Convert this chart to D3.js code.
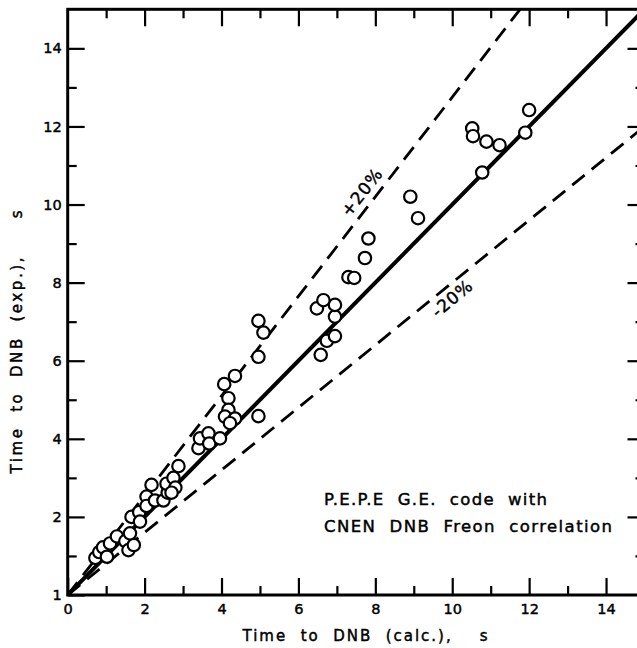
<!DOCTYPE html>
<html>
<head>
<meta charset="utf-8">
<script src="https://cdn.jsdelivr.net/npm/d3@7/dist/d3.min.js"></script>
<style>
  html, body { margin: 0; padding: 0; background: #fff; }
  svg { display: block; }
  text { font-family: "DejaVu Sans", "Liberation Sans", sans-serif; fill: #000; stroke: #000; stroke-width: 0.45px; }
</style>
</head>
<body>
<svg id="chart" width="637" height="648"></svg>
<script>
// ---- data ----
const calcTime = [
  0.72, 0.82, 0.92, 1.02, 1.10, 1.28, 1.50, 1.58, 1.72, 1.62,
  1.66, 1.86, 1.88, 2.05, 2.05, 2.18, 2.27, 2.49, 2.60, 2.57,
  2.75, 2.80, 2.88, 2.70,
  3.40, 3.44, 3.66, 3.68, 3.96,
  4.07, 4.18, 4.18, 4.09, 4.35, 4.22, 4.35, 4.96, 4.96, 5.09, 4.96,
  6.58, 6.74, 6.95, 6.95, 6.95, 6.48, 6.65, 7.30, 7.45, 7.73, 7.82,
  8.91, 9.11,
  10.52, 10.54, 10.89, 11.23, 10.78, 11.90, 12.00
];
const expTime = [
  0.95, 1.10, 1.22, 0.98, 1.32, 1.50, 1.38, 1.15, 1.28, 1.58,
  2.00, 2.12, 1.88, 2.52, 2.28, 2.82, 2.42, 2.42, 2.62, 2.85,
  3.00, 2.75, 3.30, 2.62,
  3.76, 4.01, 4.14, 3.88, 4.01,
  5.40, 5.04, 4.74, 4.57, 4.52, 4.40, 5.61, 4.58, 7.02, 6.72, 6.10,
  6.15, 6.51, 6.63, 7.13, 7.43, 7.34, 7.55, 8.14, 8.12, 8.63, 9.13,
  10.20, 9.65,
  11.95, 11.75, 11.61, 11.52, 10.82, 11.84, 12.42
];
const lineSlopes = [1.0, 1.275, 0.8];          // best fit, +20 %, -20 %
const lineDashed = [false, true, true];
const xTickValues = [0, 2, 4, 6, 8, 10, 12, 14];
const xTickLabels = ["0", "2", "4", "6", "8", "10", "12", "14"];
const yTickValues = [0, 2, 4, 6, 8, 10, 12, 14];
const yTickLabels = ["1", "2", "4", "6", "8", "10", "12", "14"];
const minorTicks = [1, 3, 5, 7, 9, 11, 13];
const xAxisTitle = "Time  to  DNB  (calc.),    s";
const yAxisTitle = "Time  to  DNB  (exp.),     s";
const noteLines = ["P.E.P.E  G.E.  code  with", "CNEN  DNB  Freon  correlation"];
const bandLabels = ["+20%", "-20%"];

// ---- layout ----
const svg = d3.select("#chart");
const x = d3.scaleLinear().domain([0, 15]).range([67.7, 644.5]);
const y = d3.scaleLinear().domain([0, 15]).range([595, 9.3]);

svg.append("defs").append("clipPath").attr("id", "plotclip")
  .append("rect")
  .attr("x", x(0)).attr("y", y(15))
  .attr("width", x(15) - x(0)).attr("height", y(0) - y(15));

const plot = svg.append("g").attr("clip-path", "url(#plotclip)");

// reference lines
const lineGen = d3.line().x(d => x(d[0])).y(d => y(d[1]));
lineSlopes.forEach((s, i) => {
  plot.append("path")
    .datum([[0, 0], [20, 20 * s]])
    .attr("d", lineGen)
    .attr("fill", "none")
    .attr("stroke", "#000")
    .attr("stroke-width", lineDashed[i] ? 2.8 : 4)
    .attr("stroke-dasharray", lineDashed[i] ? "16,9" : null);
});

// data points
plot.selectAll("circle.pt")
  .data(calcTime.map((c, i) => [c, expTime[i]]))
  .join("circle")
  .attr("class", "pt")
  .attr("cx", d => x(d[0]))
  .attr("cy", d => y(d[1]))
  .attr("r", 6.2)
  .attr("fill", "#fff")
  .attr("stroke", "#000")
  .attr("stroke-width", 2.2);

// axes (inward ticks)
function styleAxis(g) {
  g.select(".domain").remove();
  g.selectAll(".tick line").attr("stroke", "#000").attr("stroke-width", 2.2);
  g.selectAll(".tick text").attr("font-size", 14.5).attr("fill", "#000");
}
const bottomMajor = svg.append("g").attr("transform", `translate(0,${y(0)})`)
  .call(d3.axisBottom(x).tickValues(xTickValues).tickSize(-17).tickSizeOuter(0).tickPadding(9)
    .tickFormat((d, i) => xTickLabels[i]));
styleAxis(bottomMajor);
const bottomMinor = svg.append("g").attr("transform", `translate(0,${y(0)})`)
  .call(d3.axisBottom(x).tickValues(minorTicks).tickSize(-9).tickSizeOuter(0).tickFormat(""));
styleAxis(bottomMinor);

const leftMajor = svg.append("g").attr("transform", `translate(${x(0)},0)`)
  .call(d3.axisLeft(y).tickValues(yTickValues).tickSize(-17).tickSizeOuter(0).tickPadding(6)
    .tickFormat((d, i) => yTickLabels[i]));
styleAxis(leftMajor);
const leftMinor = svg.append("g").attr("transform", `translate(${x(0)},0)`)
  .call(d3.axisLeft(y).tickValues(minorTicks).tickSize(-9).tickSizeOuter(0).tickFormat(""));
styleAxis(leftMinor);

const topMajor = svg.append("g").attr("transform", `translate(0,${y(15)})`)
  .call(d3.axisTop(x).tickValues(xTickValues.slice(1)).tickSize(-17).tickSizeOuter(0).tickFormat(""));
styleAxis(topMajor);
const topMinor = svg.append("g").attr("transform", `translate(0,${y(15)})`)
  .call(d3.axisTop(x).tickValues(minorTicks).tickSize(-9).tickSizeOuter(0).tickFormat(""));
styleAxis(topMinor);

const rightMajor = svg.append("g").attr("transform", `translate(${x(15)},0)`)
  .call(d3.axisRight(y).tickValues(yTickValues.slice(1)).tickSize(-17).tickSizeOuter(0).tickFormat(""));
styleAxis(rightMajor);
const rightMinor = svg.append("g").attr("transform", `translate(${x(15)},0)`)
  .call(d3.axisRight(y).tickValues(minorTicks).tickSize(-9).tickSizeOuter(0).tickFormat(""));
styleAxis(rightMinor);

// frame
svg.append("rect")
  .attr("x", x(0)).attr("y", y(15))
  .attr("width", x(15) - x(0)).attr("height", y(0) - y(15))
  .attr("fill", "none").attr("stroke", "#000").attr("stroke-width", 3);

// band labels
svg.append("text")
  .attr("transform", `translate(${x(7.65)},${y(10.32)}) rotate(-52)`)
  .attr("text-anchor", "middle").attr("dy", "0.35em")
  .attr("font-size", 17).attr("letter-spacing", 1)
  .text(bandLabels[0]);
svg.append("text")
  .attr("transform", `translate(${x(10.0)},${y(7.6)}) rotate(-40)`)
  .attr("text-anchor", "middle").attr("dy", "0.35em")
  .attr("font-size", 17).attr("letter-spacing", 1)
  .text(bandLabels[1]);

// note
const noteWidths = [223, 288];
noteLines.forEach((t, i) => {
  svg.append("text")
    .attr("x", 324).attr("y", 505 + i * 27)
    .attr("font-size", 16.5)
    .attr("textLength", noteWidths[i]).attr("lengthAdjust", "spacing")
    .style("white-space", "pre")
    .text(t);
});

// axis titles
svg.append("text")
  .attr("x", 365).attr("y", 641)
  .attr("text-anchor", "middle")
  .attr("font-size", 15)
  .attr("textLength", 245).attr("lengthAdjust", "spacing")
  .style("white-space", "pre")
  .text(xAxisTitle);
svg.append("text")
  .attr("transform", `translate(22,342) rotate(-90)`)
  .attr("text-anchor", "middle")
  .attr("font-size", 15)
  .attr("textLength", 263).attr("lengthAdjust", "spacing")
  .style("white-space", "pre")
  .text(yAxisTitle);
</script>
</body>
</html>
